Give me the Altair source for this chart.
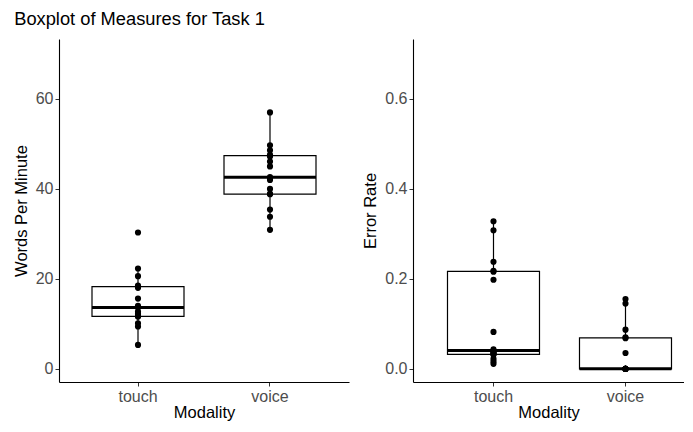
import altair as alt
import pandas as pd

modality = ["touch", "voice"]
wpm_touch = [5.3, 9.4, 10.1, 11.6, 11.7, 12.2, 12.7, 13.6, 14.0, 15.6, 18.0, 18.5, 20.6, 22.3, 30.3]
wpm_voice = [30.9, 33.8, 35.4, 38.8, 38.9, 40.0, 42.0, 42.6, 45.0, 46.1, 47.2, 47.6, 48.6, 49.7, 57.0]
err_touch = [0.011, 0.016, 0.022, 0.031, 0.0325, 0.034, 0.036, 0.038, 0.043,
             0.082, 0.198, 0.216, 0.218, 0.238, 0.308, 0.328]
err_voice = [0, 0, 0, 0, 0, 0, 0, 0, 0, 0, 0.035, 0.068, 0.070, 0.087, 0.145, 0.155]

wpm_ticks = [0, 20, 40, 60]
err_ticks = [0.0, 0.2, 0.4, 0.6]

FONT = "Liberation Sans"

wpm_df = pd.DataFrame({
    "Modality": [modality[0]] * len(wpm_touch) + [modality[1]] * len(wpm_voice),
    "value": wpm_touch + wpm_voice,
})
err_df = pd.DataFrame({
    "Modality": [modality[0]] * len(err_touch) + [modality[1]] * len(err_voice),
    "value": err_touch + err_voice,
})


def panel(df, title, domain, ticks, fmt, width, xscale):
    x = alt.X("Modality:N", title="Modality", sort=modality, scale=xscale,
              axis=alt.Axis(labelAngle=0, labelPadding=2, titlePadding=0))
    y = alt.Y("value:Q", title=title,
              scale=alt.Scale(domain=domain, nice=False, zero=False),
              axis=alt.Axis(values=ticks, format=fmt, grid=False, titlePadding=6))
    box = alt.Chart(df).mark_boxplot(
        extent=1.5, size=92, ticks=False, outliers=False,
        box={"fill": "white", "stroke": "black", "strokeWidth": 1.2},
        median={"color": "black", "thickness": 3, "opacity": 1},
        rule={"color": "black", "strokeWidth": 1.2},
    ).encode(x=x, y=y)
    pts = alt.Chart(df).mark_circle(size=38, color="black", opacity=1).encode(x=x, y=y)
    return alt.layer(box, pts).properties(width=width, height=343)


left_x = alt.Scale(type="band", paddingInner=0, paddingOuter=0.0985)
right_x = alt.Scale(type="band", paddingInner=0.1136, paddingOuter=0.0833, align=1)

left = panel(wpm_df, "Words Per Minute", [-2.94, 73.33], wpm_ticks, "d", 290, left_x)
right = panel(err_df, "Error Rate", [-0.0294, 0.7333], err_ticks, ".1f", 271, right_x)

chart = alt.hconcat(left, right, spacing=13).properties(
    title=alt.TitleParams("Boxplot of Measures for Task 1", anchor="start",
                          fontSize=18.3, fontWeight="normal", font=FONT,
                          color="black", offset=9.7, dx=1),
    padding={"left": 5, "top": 2, "right": 0, "bottom": 0},
).configure_view(stroke=None).configure_axis(
    domainColor="black", domainWidth=1.1, tickColor="#333333", tickSize=4,
    labelColor="#4d4d4d", labelFont=FONT, labelFontSize=16,
    titleColor="black", titleFont=FONT, titleFontSize=16.5, titleFontWeight="normal",
    grid=False,
)

chart.save("out.html", embed_options={"renderer": "svg", "actions": False})
